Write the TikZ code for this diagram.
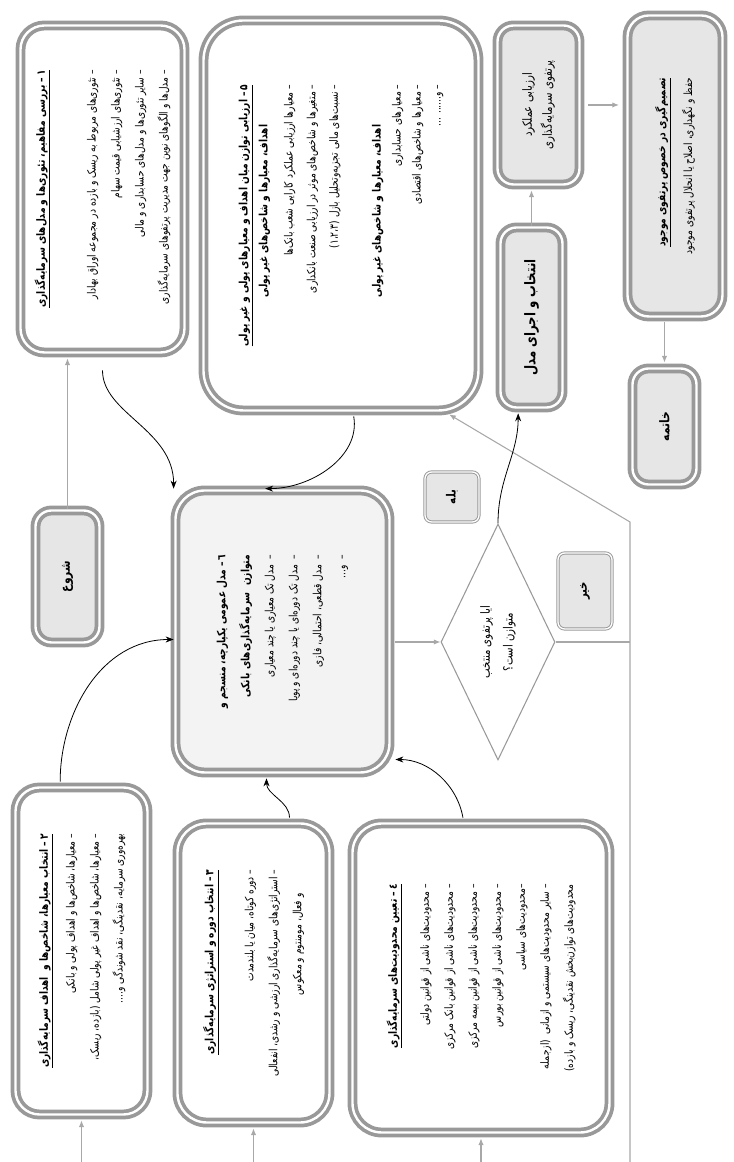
\documentclass[tikz,border=0pt]{standalone}
\usepackage{fontspec}
\usetikzlibrary{positioning,shapes.geometric,arrows.meta}
\newfontfamily\fa[Script=Arabic,FakeStretch=0.8]{DejaVu Sans}
\TeXXeTstate=1
\definecolor{boxgray}{HTML}{999999}
\definecolor{boxfill}{HTML}{E6E6E6}
\definecolor{midfill}{HTML}{F3F3F3}
\definecolor{linegray}{HTML}{A8A8A8}
\newcommand\pline[1]{\beginR #1\endR}
\newcommand\pbold[1]{{\bfseries\beginR #1\endR}}
\newcommand\ptitle[1]{\underline{\bfseries\beginR #1\endR}}

\tikzset{
  stage/.style={draw=boxgray, line width=2.8pt, double=white, double distance=1.8pt,
    rounded corners=18pt, fill=white, align=right, inner sep=0pt,
    font=\fa\fontsize{8.5}{18}\selectfont},
  stagegrey/.style={stage, fill=boxfill, rounded corners=12pt},
  tag/.style={draw=boxgray, line width=0.7pt, double=white, double distance=1pt,
    rounded corners=5pt, fill=boxfill, inner sep=0pt,
    font=\fa\bfseries\fontsize{9.5}{11}\selectfont},
  choice/.style={diamond, draw=boxgray, line width=0.8pt, inner sep=0pt, align=center,
    font=\fa\fontsize{9.5}{17}\selectfont},
  boxsize/.style 2 args={minimum width=#1*0.75pt, minimum height=#2*0.75pt},
  flow/.style={draw=linegray, line width=0.8pt, -{Latex[length=5pt,width=4pt]}},
  swing/.style={draw=black, line width=0.6pt, -{Stealth[length=6pt,width=4.5pt]}},
}

\begin{document}
\begin{tikzpicture}[rotate=90, transform shape, x=0.75pt, y=0.75pt]
\useasboundingbox (0,0) rectangle (1162,733);

% stages
\node[stage, boxsize={327}{164}] (box1) at (973,630.5) {%
  \ptitle{۱\,– بررسی مفاهیم، تئوری‌ها و مدل‌های سرمایه‌گذاری}\\[20pt]
  \pline{– تئوری‌های مربوط به ریسک و بازده در مجموعه اوراق بهادار}\\
  \pline{– تئوری‌های ارزشیابی قیمت سهام}\\
  \pline{– سایر تئوری‌ها و مدل‌های حسابداری و مالی}\\
  \pline{– مدل‌ها و الگوهای نوین جهت مدیریت پرتفوهای سرمایه‌گذاری}};
\node[stage, rounded corners=30pt, boxsize={390}{275}] (box5) at (946.5,392) {%
  \ptitle{۵\,– ارزیابی توازن میان اهداف و معیارهای پولی و غیر پولی}\\[-3pt]
  \pbold{اهداف، معیارها و شاخص‌های غیر پولی}\kern30pt\\[1pt]
  \pline{– معیارها ارزیابی عملکرد کارایی شعب بانک‌ها}\\[-1pt]
  \pline{– متغیرها و شاخص‌های موثر در ارزیابی صنعت بانکداری}\\[-1pt]
  \pline{– نسبت‌های مالی تجزیه‌وتحلیل بازل (۱،۲،۳)}\\[14pt]
  \pbold{اهداف، معیارها و شاخص‌های غیر پولی}\kern30pt\\[-3pt]
  \pline{– معیارهای حسابداری}\\[-3pt]
  \pline{– معیارها و شاخص‌های اقتصادی}\\[-3pt]
  \pline{– و...... ...}};
\node[stagegrey, boxsize={159}{82}, align=center, font=\fa\fontsize{9.5}{18}\selectfont] (perf) at (1057,194.5) {%
  \pline{ارزیابی عملکرد}\\[-3pt]\pline{پرتفوی سرمایه‌گذاری}};
\node[stagegrey, boxsize={180}{62}, font=\fa\bfseries\fontsize{11}{18}\selectfont] (select) at (844.5,201.5) {%
  \pline{انتخاب و اجرای مدل}};
\node[stagegrey, rounded corners=16pt, boxsize={301}{95}] (decide) at (996,58) {%
  \ptitle{تصمیم‌گیری در خصوص پرتفوی موجود}\\[2pt]
  \pline{حفظ و نگهداری، اصلاح یا انحلال پرتفوی موجود}};
\node[stagegrey, boxsize={116}{64}, font=\fa\bfseries\fontsize{10}{18}\selectfont] (finish) at (735.5,68.5) {%
  \pline{خاتمه}};
\node[stagegrey, boxsize={132}{64}, font=\fa\bfseries\fontsize{10}{18}\selectfont] (start) at (585.5,665.5) {%
  \pline{شروع}};
\node[stage, fill=midfill, rounded corners=22pt, boxsize={282}{214}] (box6) at (530.5,450.5) {%
  \pbold{٦\,– مدل عمومی یکپارچه، منسجم و}\\
  \pbold{متوازن\ \ سرمایه‌گذاری‌های بانکی}\\
  \pline{–\ \ مدل تک معیاری یا چند معیاری}\\
  \pline{–\ \ مدل تک دوره‌ای یا چند دوره‌ای و پویا}\\
  \pline{–\ \ مدل قطعی، احتمالی، فازی}\\
  \pline{–\ \ و...}};
\node[choice, boxsize={236}{114}] (dia) at (520,235) {%
  \pline{ایا پرتفوی منتخب}\\\pline{متوازن است؟}};
\node[tag, boxsize={50}{54}] (yes) at (665,281) {\pline{بله}};
\node[tag, boxsize={76}{54}] (no) at (571,148) {\pline{خیر}};
\node[stage, boxsize={327}{132}] (box2) at (211,651.5) {%
  \ptitle{۲\,– انتخاب معیارها، شاخص‌ها و\ \ اهداف سرمایه‌گذاری}\\[2pt]
  \pline{– معیارها، شاخص‌ها و اهداف پولی و بانکی}\\
  \pline{– معیارها، شاخص‌ها و اهداف غیر پولی شامل (بازده، ریسک،}\\
  \pline{بهره‌وری سرمایه، نقدینگی، نقد شوندگی و....}};
\node[stage, rounded corners=22pt, boxsize={299}{152}] (box3) at (189,479.5) {%
  \ptitle{۳\,– انتخاب دوره و استراتژی سرمایه‌گذاری}\\[12pt]
  \pline{– دوره کوتاه، میان یا بلندمدت}\\
  \pline{– استراتژی‌های سرمایه‌گذاری ارزشی و رشدی، انفعالی}\\
  \pline{و فعال، مومنتوم و معکوس}\kern18pt};
\node[stage, rounded corners=22pt, boxsize={309}{257}] (box4) at (184,252) {%
  \ptitle{٤\,– تعیین محدودیت‌های سرمایه‌گذاری}\\[6pt]
  \pline{– محدودیت‌های ناشی از قوانین دولتی}\\
  \pline{– محدودیت‌های ناشی از قوانین بانک مرکزی}\\
  \pline{– محدودیت‌های ناشی از قوانین بیمه مرکزی}\\
  \pline{– محدودیت‌های ناشی از قوانین بورس}\\
  \pline{–محدودیت‌های سیاسی}\\
  \pline{– سایر محدودیت‌های سیستمی و ازمانی\ \ (ازجمله}\\
  \pline{محدودیت‌های توازن‌بخش نقدینگی، ریسک و بازده)}};

% loose ends
\coordinate (edge) at (0,0);
\coordinate (loopbot) at (0,103);
\coordinate (loopup) at (640,103);

% straight links
\draw[flow, shorten >=3pt] (start.east) -- (start.east -| box1.west);
\draw[flow, shorten >=3pt] (select.east) -- (select.east -| perf.west);
\draw[flow, shorten >=5pt, shorten <=5pt] (perf.south) -- (perf.south |- decide.north);
\draw[flow, shorten >=3pt, shorten <=3pt] (decide.west |- finish.east) -- (finish.east);
\draw[flow, shorten <=3pt] (dia.north |- box6.south) -- (dia.north);
\draw[linegray, line width=0.8pt] (dia.south) -- (dia.south |- loopbot);
\draw[flow, shorten >=3pt] (loopbot) -- (loopup) -- (box5.208);
\draw[flow, shorten >=3pt] (box2.west -| edge) -- (box2.west);
\draw[flow, shorten >=3pt] (box3.west -| edge) -- (box3.west);
\draw[flow, shorten >=3pt] (box4.west -| edge) -- (box4.west);

% curved links into the model
\draw[swing, shorten <=12pt] (box1.west) to[out=180, in=0] (box6.north east);
\draw[swing, shorten <=3pt] ([yshift=-9pt]box5.west) to[out=190, in=270] ([yshift=13pt]box6.east);
\draw[swing, shorten <=3pt] ([yshift=16pt]box2.east) to[out=0, in=90] ([xshift=-6pt]box6.north);
\draw[swing, shorten <=3pt, shorten >=3pt] ([yshift=-27pt]box3.east) to[out=0, in=180] ([yshift=12pt]box6.west);
\draw[swing, shorten <=3pt, shorten >=3pt] ([yshift=13pt]box4.east) to[out=10, in=270] ([xshift=-96pt]box6.south);
\draw[swing, shorten >=3pt] (dia.east) to[out=0, in=180] ([yshift=10pt]select.west);
\end{tikzpicture}
\end{document}
